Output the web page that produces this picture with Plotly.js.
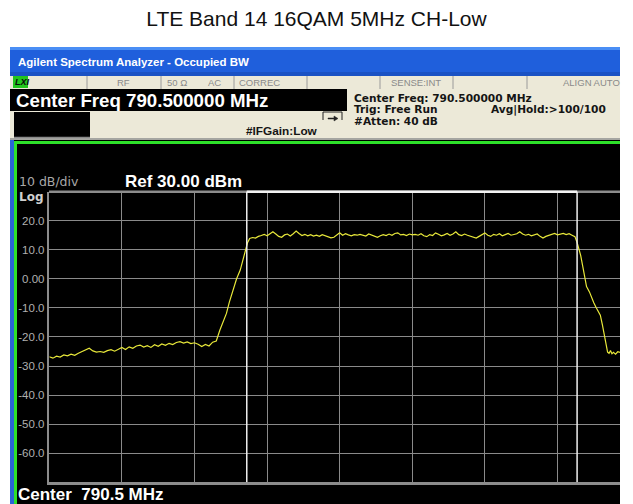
<!DOCTYPE html>
<html>
<head>
<meta charset="utf-8">
<script src="https://cdn.plot.ly/plotly-3.0.1.min.js"></script>
<style>html,body{margin:0;padding:0;background:#fff;}#chart{width:633px;height:504px;}</style>
</head>
<body>
<div id="chart"></div>
<script>
// ---- data ----
const freqMHz = [
785.50,785.55,785.60,785.65,785.70,785.75,785.80,785.85,785.90,785.95,
786.00,786.05,786.10,786.15,786.20,786.25,786.30,786.35,786.40,786.45,
786.50,786.55,786.60,786.65,786.70,786.75,786.80,786.85,786.90,786.95,
787.00,787.05,787.10,787.15,787.20,787.25,787.30,787.35,787.40,787.45,
787.50,787.55,787.60,787.65,787.70,787.75,787.80,
787.85,787.90,787.94,787.98,788.03,788.08,788.13,788.17,788.20,788.23,788.26,
788.30,788.34,788.38,788.42,788.46,788.50,788.54,788.58,788.62,788.66,
788.70,788.74,788.78,788.82,788.86,788.90,788.94,788.98,789.02,789.06,
789.10,789.14,789.18,789.22,789.26,789.30,789.34,789.38,789.42,789.46,
789.50,789.54,789.58,789.62,789.66,789.70,789.74,789.78,789.82,789.86,
789.90,789.94,789.98,790.02,790.06,790.10,790.14,790.18,790.22,790.26,
790.30,790.34,790.38,790.42,790.46,790.50,790.54,790.58,790.62,790.66,
790.70,790.74,790.78,790.82,790.86,790.90,790.94,790.98,791.02,791.06,
791.10,791.14,791.18,791.22,791.26,791.30,791.34,791.38,791.42,791.46,
791.50,791.54,791.58,791.62,791.66,791.70,791.74,791.78,791.82,791.86,
791.90,791.94,791.98,792.02,792.06,792.10,792.14,792.18,792.22,792.26,
792.30,792.34,792.38,792.42,792.46,792.50,792.54,792.58,792.62,792.66,
792.70,792.74,
792.77,792.79,792.82,792.85,792.88,792.90,792.94,792.97,793.00,793.03,
793.06,793.09,793.12,793.15,793.17,793.19,793.21,793.23,793.25,793.27,
793.30,793.33,793.36
];
const levelDbm = [
-26.8,-27.3,-26.6,-26.9,-26.2,-26.5,-25.9,-26.3,-25.6,-25.0,
-24.6,-23.9,-24.8,-25.2,-25.0,-25.3,-24.7,-24.4,-24.9,-24.1,
-23.6,-24.3,-23.4,-23.9,-23.1,-22.8,-23.5,-23.0,-23.6,-22.7,
-23.2,-22.4,-22.9,-22.2,-22.6,-21.9,-21.6,-22.1,-21.7,-22.3,
-22.0,-22.5,-23.3,-22.6,-23.1,-21.8,-21.4,
-17.6,-14.5,-11.9,-8.0,-3.8,0.0,3.0,6.5,9.9,12.4,13.9,
14.2,14.0,14.6,14.9,15.3,14.8,15.6,16.2,15.4,14.6,
14.3,15.1,15.4,14.7,15.5,16.4,15.6,14.9,15.3,14.8,
15.2,14.7,15.0,14.6,15.2,14.8,14.5,14.1,14.3,15.2,
15.8,15.0,15.5,15.1,14.8,15.2,15.0,15.3,15.1,14.7,
15.4,15.0,14.6,14.3,14.8,15.2,14.9,15.4,15.0,15.6,
15.8,15.1,15.3,14.9,15.4,15.1,15.3,15.0,15.5,14.8,
14.5,15.2,14.9,15.8,15.3,14.8,15.1,15.6,15.0,15.4,
16.2,15.2,14.9,15.4,15.0,14.7,14.5,14.0,14.6,15.1,
15.8,15.0,14.6,15.3,15.0,15.5,14.8,15.2,15.6,15.0,
15.3,15.5,16.2,15.4,15.0,15.3,14.8,15.2,15.4,14.6,
14.0,14.6,15.0,15.4,15.6,15.1,15.3,15.6,15.2,15.5,
15.0,14.5,
12.5,11.0,8.0,4.0,0.5,-2.7,-4.5,-6.7,-8.2,-9.8,
-11.0,-12.5,-16.0,-19.9,-23.5,-25.2,-25.6,-24.7,-25.8,-25.3,
-25.9,-25.1,-25.3
];
const obwMarkersMHz = [788.22, 792.77];
const yTickVals = [20, 10, 0, -10, -20, -30, -40, -50, -60];
const yTickText = ["20.0", "10.0", "0.00", "-10.0", "-20.0", "-30.0", "-40.0", "-50.0", "-60.0"];
const xGridMHz = [786.5, 787.5, 788.5, 789.5, 790.5, 791.5, 792.5];

// ---- layout helpers ----
const W = 633, H = 504;
const X = p => p / W;
const Y = p => 1 - p / H;
const rect = (x0, y0, x1, y1, fill, layer) => ({
  type: 'rect', xref: 'paper', yref: 'paper',
  x0: X(x0), x1: X(x1), y0: Y(y1), y1: Y(y0),
  fillcolor: fill, line: {width: 0}, layer: layer || 'below'
});
const hline = (x0, x1, y, color, w) => ({
  type: 'line', xref: 'paper', yref: 'paper',
  x0: X(x0), x1: X(x1), y0: Y(y), y1: Y(y), line: {color: color, width: w}, layer: 'below'
});
const vline = (x, y0, y1, color, w) => ({
  type: 'line', xref: 'paper', yref: 'paper',
  x0: X(x), x1: X(x), y0: Y(y0), y1: Y(y1), line: {color: color, width: w}, layer: 'below'
});
const FONT = 'Liberation Sans, Arial, sans-serif';
const DJV = 'DejaVu Sans, Verdana, sans-serif';
const txt = (x, y, s, size, color, opts) => Object.assign({
  xref: 'paper', yref: 'paper', x: X(x), y: Y(y), text: s, showarrow: false,
  xanchor: 'left', yanchor: 'middle', borderpad: 0,
  font: {family: FONT, size: size, color: color}
}, opts || {});
const dtxt = (x, y, s, size, color, opts) =>
  Object.assign(txt(x, y, s, size, color, opts), {font: {family: DJV, size: size, color: color}});

const beige = '#ece9d8';
const shapes = [
  // window title bar
  rect(10, 47, 620, 76, '#1f5fdc'),
  rect(10, 47, 620, 50, '#4a8ef5'),
  rect(10, 72, 620, 76, '#1a52c4'),
  // status row
  rect(10, 76, 620, 89, beige),
  rect(13, 76, 28, 88, '#22c51e'),
  vline(87, 76, 89, '#9a9a9a', 1),
  vline(161, 76, 89, '#9a9a9a', 1),
  vline(234, 76, 89, '#9a9a9a', 1),
  vline(307, 76, 89, '#9a9a9a', 1),
  vline(380, 76, 89, '#9a9a9a', 1),
  vline(453, 76, 89, '#9a9a9a', 1),
  vline(527, 76, 89, '#9a9a9a', 1),
  // info area
  rect(10, 89, 620, 140, beige),
  rect(10, 89, 347, 111, '#000000'),
  rect(14, 112, 90, 137, '#000000'),
  hline(14, 90, 137.5, '#8a8a8a', 1.5),
  hline(10, 620, 139, '#8f8f8f', 1.5),
  // small icon
  {type: 'path', xref: 'paper', yref: 'paper', layer: 'below',
   path: `M${X(323)},${Y(120)} L${X(323)},${Y(112)} L${X(342)},${Y(112)} L${X(342)},${Y(120)}`,
   line: {color: '#222', width: 1}},
  {type: 'path', xref: 'paper', yref: 'paper', layer: 'below',
   path: `M${X(328)},${Y(118)} L${X(334)},${Y(118)} L${X(334)},${Y(116)} L${X(338)},${Y(118.5)} L${X(334)},${Y(121)} L${X(334)},${Y(119)} L${X(328)},${Y(119)} Z`,
   fillcolor: '#222', line: {color: '#222', width: 0.5}},
  // screen frame
  rect(10, 140, 620, 504, '#000000'),
  rect(10, 140, 14, 504, '#2a64d6'),
  rect(14, 141, 620, 144, '#2ee02a'),
  rect(14, 141, 17, 504, '#2ee02a'),
  // plot borders
  hline(49, 620, 191.8, '#8c8c8c', 2.5),
  {type: 'line', xref: 'x', yref: 'paper', x0: obwMarkersMHz[0], x1: obwMarkersMHz[1],
   y0: Y(191.8), y1: Y(191.8), line: {color: '#f2f2f2', width: 2.5}, layer: 'above'}
].concat(obwMarkersMHz.map(f => ({
  type: 'line', xref: 'x', yref: 'y', x0: f, x1: f, y0: -70, y1: 30,
  line: {color: '#f0f0f0', width: 1.5}, layer: 'above'
})));

const annotations = [
  txt(17, 62, '<b>Agilent Spectrum Analyzer - Occupied BW</b>', 11.5, '#ffffff'),
  txt(14, 82, '<b><i>LXI</i></b>', 9, '#0a0a0a'),
  txt(123, 82.5, 'RF', 9.5, '#8a8a8a', {xanchor: 'center'}),
  txt(177, 82.5, '50 Ω', 9.5, '#8a8a8a', {xanchor: 'center'}),
  txt(215, 82.5, 'AC', 9.5, '#8a8a8a', {xanchor: 'center'}),
  txt(259, 82.5, 'CORREC', 9.5, '#8a8a8a', {xanchor: 'center'}),
  txt(416, 82.5, 'SENSE:INT', 9.5, '#8a8a8a', {xanchor: 'center'}),
  txt(621, 82.5, 'ALIGN AUTO', 9.5, '#8a8a8a', {xanchor: 'right'}),
  txt(15, 100.5, '<b>Center Freq 790.500000 MHz</b>', 18.7, '#ffffff'),
  dtxt(353, 98.3, '<b>Center Freq: 790.500000 MHz</b>', 10.6, '#151515'),
  dtxt(353, 109.4, '<b>Trig: Free Run</b>', 10.6, '#151515'),
  dtxt(490, 109.4, '<b>Avg|Hold:>100/100</b>', 10.6, '#151515'),
  dtxt(353, 120.5, '<b>#Atten: 40 dB</b>', 10.6, '#151515'),
  txt(245, 131, '<b>#IFGain:Low</b>', 11.8, '#151515'),
  dtxt(18, 181, '10 dB/div', 12.5, '#a8a8a8'),
  dtxt(18, 197, '<b>Log</b>', 12, '#cfcfcf'),
  txt(124, 181, '<b>Ref 30.00 dBm</b>', 17, '#ffffff'),
  txt(17, 494, '<b>Center  790.5 MHz</b>', 17, '#ffffff')
];

const trace = {
  type: 'scatter', mode: 'lines', x: freqMHz, y: levelDbm,
  line: {color: '#e8e83a', width: 1.2}, hoverinfo: 'skip', showlegend: false
};

const layout = {
  width: W, height: H,
  margin: {l: 0, r: 0, t: 0, b: 0, pad: 0},
  paper_bgcolor: '#ffffff', plot_bgcolor: '#000000',
  title: {text: 'LTE Band 14 16QAM 5MHz CH-Low', x: 0.5, xanchor: 'center',
          y: Y(19), yanchor: 'middle',
          font: {family: FONT, size: 21, color: '#111111'}},
  xaxis: {
    domain: [X(49.3), X(620)], range: [785.5, 793.361],
    tickvals: xGridMHz, showticklabels: false, ticks: '',
    showgrid: true, gridcolor: '#8a8a8a', gridwidth: 1,
    zeroline: false, showline: true, linecolor: '#8c8c8c', linewidth: 2.5,
    fixedrange: true
  },
  yaxis: {
    domain: [Y(482.3), Y(191.6)], range: [-70, 30],
    tickvals: yTickVals, ticktext: yTickText, ticks: '',
    tickfont: {family: FONT, size: 11.5, color: '#b0b0b0'},
    showgrid: true, gridcolor: '#8a8a8a', gridwidth: 1,
    zeroline: false, showline: true, linecolor: '#8c8c8c', linewidth: 2.5,
    fixedrange: true
  },
  shapes: shapes,
  annotations: annotations,
  showlegend: false
};

Plotly.newPlot('chart', [trace], layout, {staticPlot: true, displayModeBar: false});
</script>
</body>
</html>
